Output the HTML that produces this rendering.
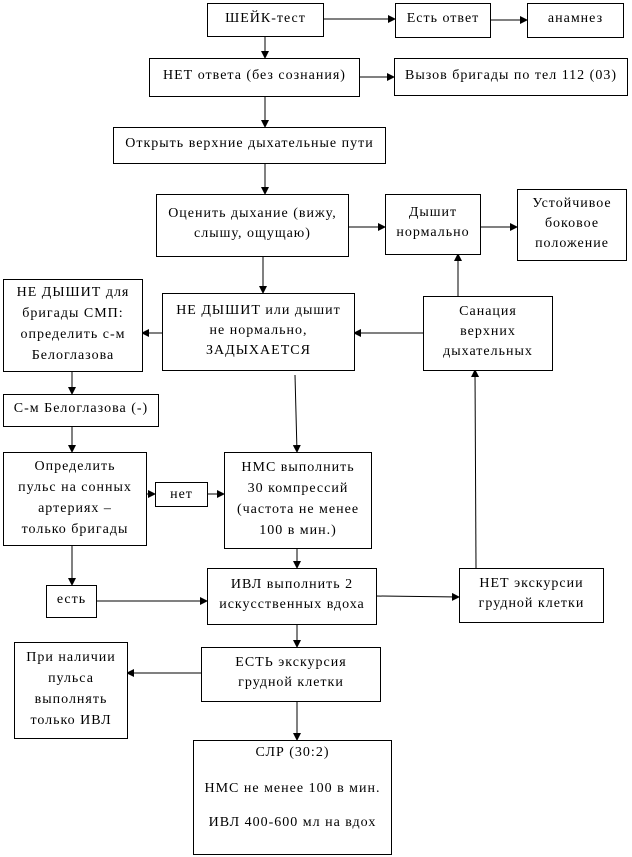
<!DOCTYPE html>
<html><head><meta charset="utf-8"><style>
html,body{margin:0;padding:0;background:#fff;width:632px;height:857px;overflow:hidden;position:relative}
.b{position:absolute;box-sizing:border-box;border:1px solid #000;display:flex;flex-direction:column;justify-content:center;align-items:center;text-align:center;font-family:"Liberation Serif","Noto Serif CJK SC",serif;font-size:14px;letter-spacing:1px;line-height:20px;color:#000;background:#fff;padding-bottom:3px;white-space:nowrap}
svg{position:absolute;left:0;top:0}
</style></head><body>
<svg width="632" height="857">
<defs><marker id="a" markerWidth="8" markerHeight="8" refX="7" refY="4" orient="auto" markerUnits="userSpaceOnUse"><path d="M0,0 L8,4 L0,8 z" fill="#000"/></marker></defs>
<g stroke="#000" stroke-width="1" fill="none" marker-end="url(#a)">
<line x1="265" y1="36" x2="265" y2="58"/>
<line x1="324" y1="19" x2="395" y2="19"/>
<line x1="490" y1="20" x2="527" y2="20"/>
<line x1="359" y1="77" x2="394" y2="77"/>
<line x1="265" y1="96" x2="265" y2="127"/>
<line x1="265" y1="163" x2="265" y2="194"/>
<line x1="348" y1="227" x2="385" y2="227"/>
<line x1="480" y1="227" x2="517" y2="227"/>
<line x1="263" y1="256" x2="263" y2="293"/>
<line x1="458" y1="296" x2="458" y2="254"/>
<line x1="423" y1="333" x2="354" y2="333"/>
<line x1="162" y1="333" x2="142" y2="333"/>
<line x1="72" y1="371" x2="72" y2="394"/>
<line x1="72" y1="426" x2="72" y2="452"/>
<line x1="146" y1="494" x2="155" y2="494"/>
<line x1="207" y1="494" x2="224" y2="494"/>
<line x1="295" y1="375" x2="297" y2="452"/>
<line x1="72" y1="545" x2="72" y2="585"/>
<line x1="96" y1="601" x2="207" y2="601"/>
<line x1="297" y1="548" x2="297" y2="568"/>
<line x1="376" y1="596" x2="459" y2="597"/>
<line x1="476" y1="568" x2="475" y2="370"/>
<line x1="297" y1="624" x2="297" y2="647"/>
<line x1="201" y1="673" x2="127" y2="673"/>
<line x1="297" y1="701" x2="297" y2="740"/>
</g></svg>
<div class="b" style="left:207px;top:3px;width:117px;height:34px">ШЕЙК-тест</div>
<div class="b" style="left:395px;top:3px;width:96px;height:35px">Есть ответ</div>
<div class="b" style="left:527px;top:3px;width:97px;height:35px">анамнез</div>
<div class="b" style="left:149px;top:58px;width:211px;height:39px">НЕТ ответа (без сознания)</div>
<div class="b" style="left:394px;top:58px;width:234px;height:38px">Вызов бригады по тел 112 (03)</div>
<div class="b" style="left:113px;top:127px;width:273px;height:37px">Открыть верхние дыхательные пути</div>
<div class="b" style="left:156px;top:194px;width:193px;height:63px">Оценить дыхание (вижу,<br>слышу, ощущаю)</div>
<div class="b" style="left:385px;top:194px;width:96px;height:61px">Дышит<br>нормально</div>
<div class="b" style="left:517px;top:189px;width:110px;height:72px">Устойчивое<br>боковое<br>положение</div>
<div class="b" style="left:3px;top:279px;width:140px;height:93px;line-height:21px">НЕ ДЫШИТ для<br>бригады СМП:<br>определить с-м<br>Белоглазова</div>
<div class="b" style="left:162px;top:293px;width:193px;height:78px">НЕ ДЫШИТ или дышит<br>не нормально,<br>ЗАДЫХАЕТСЯ</div>
<div class="b" style="left:423px;top:296px;width:130px;height:75px">Санация<br>верхних<br>дыхательных</div>
<div class="b" style="left:3px;top:394px;width:156px;height:33px">С-м Белоглазова (-)</div>
<div class="b" style="left:3px;top:452px;width:144px;height:94px;line-height:21px">Определить<br>пульс на сонных<br>артериях –<br>только бригады</div>
<div class="b" style="left:155px;top:482px;width:53px;height:25px;padding-bottom:0">нет</div>
<div class="b" style="left:224px;top:452px;width:148px;height:97px;line-height:21px">НМС выполнить<br>30 компрессий<br>(частота не менее<br>100 в мин.)</div>
<div class="b" style="left:46px;top:585px;width:51px;height:33px">есть</div>
<div class="b" style="left:207px;top:568px;width:170px;height:57px">ИВЛ выполнить 2<br>искусственных вдоха</div>
<div class="b" style="left:459px;top:568px;width:145px;height:55px">НЕТ экскурсии<br>грудной клетки</div>
<div class="b" style="left:201px;top:647px;width:180px;height:55px">ЕСТЬ экскурсия<br>грудной клетки</div>
<div class="b" style="left:14px;top:642px;width:114px;height:97px;line-height:21px">При наличии<br>пульса<br>выполнять<br>только ИВЛ</div>
<div class="b" style="left:193px;top:740px;width:199px;height:115px;justify-content:flex-start;padding-top:3px;line-height:18px">СЛР (30:2)<br><span style="display:block;margin-top:18px">НМС не менее 100 в мин.</span><span style="display:block;margin-top:16px">ИВЛ 400-600 мл на вдох</span></div>
</body></html>
